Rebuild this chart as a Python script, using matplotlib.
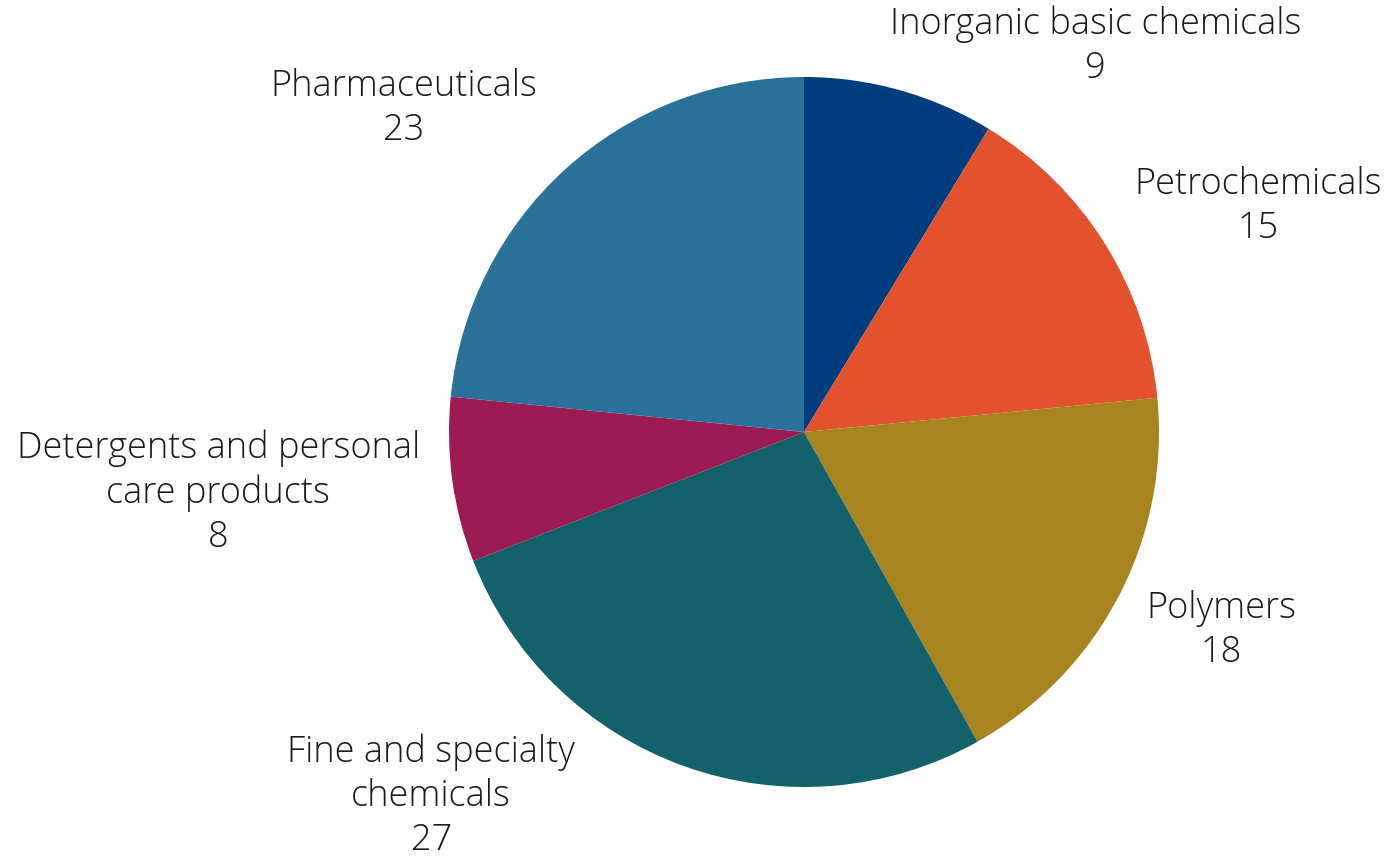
import matplotlib
matplotlib.use("Agg")
import matplotlib.pyplot as plt

# 데이터
labels = ["Inorganic basic chemicals", "Petrochemicals", "Polymers",
          "Fine and specialty\nchemicals", "Detergents and personal\ncare products",
          "Pharmaceuticals"]
values = [9, 15, 18, 27, 8, 23]                     # 표시 값 (반올림)
shares = [8.7, 14.75, 18.4, 27.2, 7.5, 23.4]         # 조각 크기
colors = ["#003d7f", "#e3522c", "#a88421", "#13616b", "#9c1b55", "#2a7199"]

# 라벨 위치 (반지름 단위)
label_xy = [(0.822, 1.088), (1.28, 0.636), (1.175, -0.559),
            (-1.05, -1.025), (-1.65, -0.172), (-1.127, 0.91)]

W, H = 1391, 858
R = 355.0
cx, cy = 804, 432

fig = plt.figure(figsize=(W / 100, H / 100), dpi=100, facecolor="white")
ax = fig.add_axes([0, 0, 1, 1])
ax.pie(shares, colors=colors, startangle=90, counterclock=False, radius=1,
       center=(0, 0), wedgeprops=dict(linewidth=0))
ax.set_aspect("auto")
ax.set_xlim(-cx / R, (W - cx) / R)
ax.set_ylim(-(H - cy) / R, cy / R)
ax.axis("off")

for lab, v, (x, y) in zip(labels, values, label_xy):
    ax.text(x, y, f"{lab}\n{v}", ha="center", va="center", fontsize=26,
            family=["Open Sans", "DejaVu Sans"], fontweight=300,
            color="#1a1a1a", linespacing=1.25)

fig.savefig("out.png", dpi=100, facecolor="white")
